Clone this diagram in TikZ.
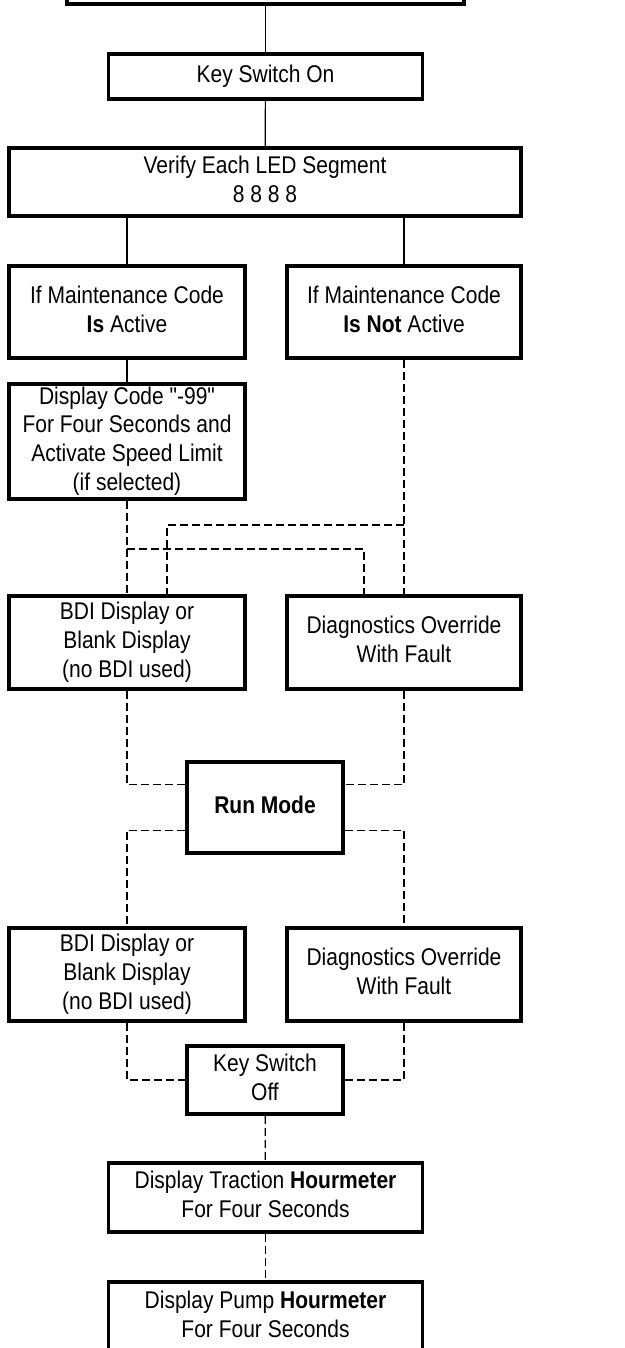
\documentclass[tikz,border=0pt]{standalone}
\usepackage{fontspec}
\setmainfont{Liberation Sans}[Ligatures=TeXOff]
\usepackage{tikz}
\usetikzlibrary{calc,positioning}
\newcommand{\tall}[1]{\scalebox{1}[1.15]{\begin{tabular}{@{}c@{}}#1\end{tabular}}}

\begin{document}
\begin{tikzpicture}[
      x=1pt, y=-1pt,
      font=\fontsize{21}{25}\selectfont,
      flowbox/.style={draw=black,line width=3.5pt,inner sep=0pt,align=center},
      widebox/.style={flowbox,minimum width=314,minimum height=45},
      colbox/.style={flowbox,minimum width=236,minimum height=93},
      runbox/.style={flowbox,minimum width=156},
      solidline/.style={line width=1.2pt,draw=black},
      dashline/.style={line width=1.2pt,draw=black,dash pattern=on 8pt off 4pt}
    ]
      \useasboundingbox (0,0) rectangle (624,1348);
      \clip (0,0) rectangle (624,1348);
      % top of the chart (cut off)
      \node[flowbox,minimum width=397,minimum height=68] (start) at (265.5,-30) {};
      \node[widebox] (keyon) at (265.5,76.5) {\tall{Key Switch On}};
      \node[flowbox,minimum width=512,minimum height=68] (verify) at (265,182) {\tall{Verify Each LED Segment\\8 8 8 8}};
      \node[colbox,minimum height=92] (isact) at (127,312) {\tall{If Maintenance Code\\\textbf{Is} Active}};
      \node[colbox,minimum width=234,minimum height=92] (notact) at (404,312) {\tall{If Maintenance Code\\\textbf{Is Not} Active}};
      \node[colbox,minimum height=115] (code) at (127,441.5) {\tall{Display Code "-99"\\For Four Seconds and\\Activate Speed Limit\\(if selected)}};
      \node[colbox] (bdia) at (127,642.5) {\tall{BDI Display or\\Blank Display\\(no BDI used)}};
      \node[colbox,minimum width=234] (diaga) at (404,642.5) {\tall{Diagnostics Override\\With Fault}};
      \node[runbox,minimum height=91] (run) at (265,807.5) {\tall{\textbf{Run Mode}}};
      \node[colbox] (bdib) at (127,974.5) {\tall{BDI Display or\\Blank Display\\(no BDI used)}};
      \node[colbox,minimum width=234] (diagb) at (404,974.5) {\tall{Diagnostics Override\\With Fault}};
      \node[runbox,minimum height=68] (keyoff) at (265,1080) {\tall{Key Switch\\Off}};
      \node[widebox,minimum height=69] (traction) at (265.5,1197.5) {\tall{Display Traction \textbf{Hourmeter}\\For Four Seconds}};
      \node[widebox,minimum height=70] (pump) at (265.5,1317) {\tall{Display Pump \textbf{Hourmeter}\\For Four Seconds}};

      % solid links
      \draw[solidline] (start) -- (keyon);
      \draw[solidline] (keyon) -- (verify);
      \draw[solidline] (isact.north |- verify.south) -- (isact.north);
      \draw[solidline] (notact.north |- verify.south) -- (notact.north);
      \draw[solidline] (isact) -- (code);

      % dashed links
      \draw[dashline] (code.south) -- (bdia.north);
      \draw[dashline] (notact.south) -- (diaga.north);
      \draw[dashline] (code.south |- 0,549) -| ([xshift=-40pt]diaga.north);
      \draw[dashline] (notact.south |- 0,525) -| ([xshift=40pt]bdia.north);
      \draw[dashline] (bdia.south) |- ([yshift=23pt]run.west);
      \draw[dashline] (diaga.south) |- ([yshift=23pt]run.east);
      \draw[dashline] ([yshift=-23pt]run.west) -| (bdib.north);
      \draw[dashline] ([yshift=-23pt]run.east) -| (diagb.north);
      \draw[dashline] (bdib.south) |- (keyoff.west);
      \draw[dashline] (diagb.south) |- (keyoff.east);
      \draw[dashline] (keyoff) -- (traction);
      \draw[dashline] (traction) -- (pump);
    \end{tikzpicture}
\end{document}
